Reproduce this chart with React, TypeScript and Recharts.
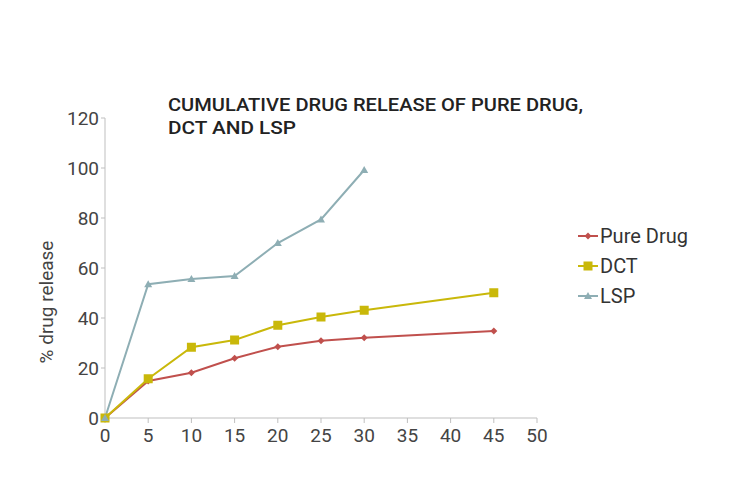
import { LineChart, Line, XAxis, YAxis, Legend, Customized } from 'recharts';

const times = [0, 5, 10, 15, 20, 25, 30, 45];
const pureDrug = [0, 14.8, 18.1, 23.9, 28.5, 30.9, 32.1, 34.8];
const dct = [0, 15.7, 28.3, 31.2, 37.1, 40.4, 43.1, 50.1];
const lsp: (number | null)[] = [0, 53.5, 55.6, 56.8, 70, 79.4, 99.2, null];
const xTicks = [0, 5, 10, 15, 20, 25, 30, 35, 40, 45, 50];
const yTicks = [0, 20, 40, 60, 80, 100, 120];
const seriesNames = ['Pure Drug', 'DCT', 'LSP'];
const seriesColors = ['#c0504d', '#c9b80a', '#8eaeb4'];

const data = times.map((t, i) => ({
  time: t,
  'Pure Drug': pureDrug[i],
  DCT: dct[i],
  LSP: lsp[i],
}));

const FONT = 'Roboto, sans-serif';

const Title = () => (
  <g>
    <text x={168} y={111} fontSize={19} fontWeight={500} fontFamily={FONT} fill="#222"
      textLength={415} lengthAdjust="spacingAndGlyphs">
      CUMULATIVE DRUG RELEASE OF PURE DRUG,
    </text>
    <text x={168} y={134} fontSize={19} fontWeight={500} fontFamily={FONT} fill="#222"
      textLength={128} lengthAdjust="spacingAndGlyphs">
      DCT AND LSP
    </text>
    <text x={0} y={0} fontSize={19} fontFamily={FONT} fill="#444" textAnchor="middle"
      transform="translate(53 302) rotate(-90)">
      % drug release
    </text>
  </g>
);

const marker = (i: number, cx: number, cy: number) => {
  const c = seriesColors[i];
  if (i === 0) return <path d={`M${cx},${cy - 3.5}L${cx + 3.5},${cy}L${cx},${cy + 3.5}L${cx - 3.5},${cy}Z`} fill={c} />;
  if (i === 1) return <rect x={cx - 4.5} y={cy - 4.5} width={9} height={9} fill={c} />;
  return <path d={`M${cx},${cy - 4}L${cx + 4},${cy + 3}L${cx - 4},${cy + 3}Z`} fill={c} />;
};

const makeDot = (i: number) => (props: any) => {
  const { cx, cy, value } = props;
  if (cx == null || cy == null || value == null) return <g key={props.index} />;
  return <g key={props.index}>{marker(i, cx, cy)}</g>;
};

const LegendContent = () => (
  <div style={{ fontFamily: FONT, fontSize: 20, color: '#333' }}>
    {seriesNames.map((name, i) => (
      <div key={name} style={{ display: 'flex', alignItems: 'center', height: 30 }}>
        <svg width={22} height={12} style={{ marginRight: 1 }}>
          <line x1={1} y1={6} x2={21} y2={6} stroke={seriesColors[i]} strokeWidth={2} />
          {marker(i, 11, 6)}
        </svg>
        <span>{name}</span>
      </div>
    ))}
  </div>
);

export default function App() {
  return (
    <div style={{ position: 'absolute', left: 0, top: 0, background: '#fff' }}>
      <LineChart width={750} height={499} data={data} margin={{ top: 118, right: 63, left: 20, bottom: 51 }}>
        <XAxis
          dataKey="time"
          type="number"
          domain={[0, 50]}
          ticks={xTicks}
          interval={0}
          stroke="#bfbfbf"
          tickSize={5}
          tick={{ fill: '#444', fontSize: 19, fontFamily: FONT, dy: 4 }}
          height={30}
        />
        <YAxis
          domain={[0, 120]}
          ticks={yTicks}
          interval={0}
          stroke="#bfbfbf"
          tickSize={4}
          width={85}
          tick={{ fill: '#444', fontSize: 19, fontFamily: FONT }}
        />
        <Legend
          layout="vertical"
          align="right"
          verticalAlign="middle"
          content={<LegendContent />}
          wrapperStyle={{ position: 'absolute', left: 577, top: 221, width: 150 }}
        />
        <Line dataKey="Pure Drug" stroke={seriesColors[0]} strokeWidth={2} dot={makeDot(0)} isAnimationActive={false} />
        <Line dataKey="DCT" stroke={seriesColors[1]} strokeWidth={2} dot={makeDot(1)} isAnimationActive={false} />
        <Line dataKey="LSP" stroke={seriesColors[2]} strokeWidth={2} dot={makeDot(2)} isAnimationActive={false} />
        <Customized component={Title} />
      </LineChart>
    </div>
  );
}
